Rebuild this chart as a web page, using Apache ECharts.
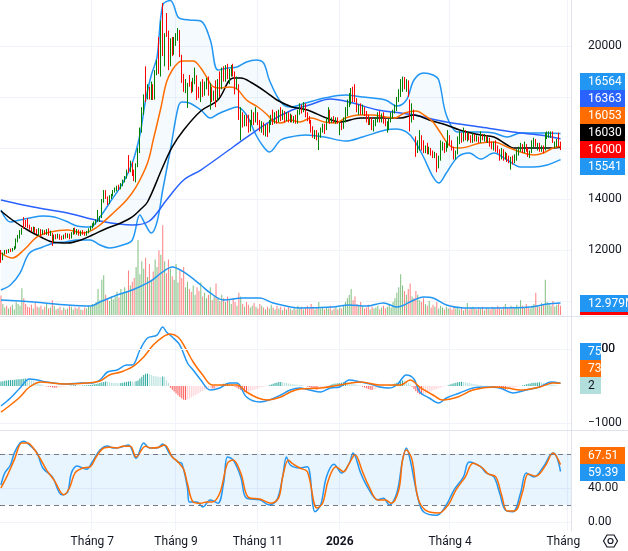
<!DOCTYPE html>
<html><head><meta charset="utf-8">
<script src="https://cdn.jsdelivr.net/npm/echarts@6/dist/echarts.min.js"></script>
<style>html,body{margin:0;padding:0;background:#fff}#c{width:628px;height:551px}</style>
</head><body><div id="c"></div>
<script>
// ---------- time axis ----------
const startDate = '2025-04-21';
const slotCount = 300;
const holidays = ['2025-04-30','2025-05-01','2025-05-02','2025-09-01','2025-09-02','2026-01-01',
  '2026-02-16','2026-02-17','2026-02-18','2026-02-19','2026-02-20','2026-04-27','2026-04-30','2026-05-01'];
const monthTicks = {'2025-07':'Tháng 7','2025-09':'Tháng 9','2025-11':'Tháng 11','2026-01':'2026','2026-04':'Tháng 4','2026-07':'Tháng 7'};

// ---------- axis tick labels ----------
const priceTicks = [10000, 12000, 14000, 16000, 18000, 20000];
const macdTicks = [-1000, 0, 1000];
const stochTicks = [0, 40, 80];

// ---------- price candles [open, close, low, high] ----------
const candles = [
[11950,11650,11500,12000],[11650,11850,11600,11900],[11850,11950,11820,12000],[11950,11900,11850,12010],[11900,11990,11880,12040],
[11990,11960,11920,12060],[11960,12050,11940,12080],[12050,12100,12000,12150],[12100,12350,12050,12450],[12350,12500,12300,12590],
[12500,12650,12450,12780],[12650,12800,12600,12860],[13050,12880,12830,13290],[13150,12950,12900,13180],[13200,12950,12860,13250],
[12950,12850,12800,12990],[12850,12780,12710,12900],[12780,12850,12700,12920],[12850,12760,12670,12900],[12760,12700,12620,12820],
[12700,12780,12560,12860],[12780,12650,12520,12820],[12650,12720,12600,12800],[12720,12680,12600,12780],[12680,12750,12590,12820],
[12750,12620,12560,12850],[12620,12700,12550,12760],[12650,12300,12160,12670],[12350,12550,12300,12600],[12550,12500,12420,12620],
[12500,12580,12450,12640],[12580,12480,12400,12620],[12480,12450,12390,12560],[12450,12550,12420,12600],[12550,12500,12450,12670],
[12500,12600,12470,12650],[12600,12480,12420,12640],[12480,12650,12450,12700],[12650,12800,12600,12860],[12800,12700,12620,12880],
[12700,12750,12600,12820],[12750,12620,12560,12800],[12620,12700,12550,12760],[12700,12640,12600,12780],[12640,12600,12560,12720],
[12600,12700,12560,12750],[12700,12800,12650,12850],[12800,12900,12760,12950],[12900,12980,12850,13050],[12980,13050,12920,13120],
[13050,13150,13000,13200],[13150,13450,13100,13570],[13200,13300,13100,13330],[13300,13900,13250,14000],[13900,14250,13850,14350],
[14250,14050,14000,14350],[14050,13850,13760,14100],[13850,14050,13800,14150],[14050,14150,14000,14200],[14150,14300,14100,14350],
[14300,14380,14250,14450],[14380,14450,14300,14520],[14450,14400,14350,14560],[14400,14550,14380,14620],[14550,14700,14500,14760],
[14700,14850,14650,14900],[14850,15050,14800,15150],[15500,15100,15020,15720],[15100,15400,15050,15500],[15400,15000,14900,15450],
[15000,14800,14700,15150],[14800,15300,14650,15400],[15300,15900,15250,16000],[15900,16700,15800,16800],[16700,17500,16600,17600],
[17500,17900,17300,18100],[18600,17950,17800,19200],[17950,18300,17900,18500],[18300,18000,17900,18400],[18000,18400,17880,18600],
[18400,17950,17880,18500],[17950,18900,17900,19050],[18900,19400,18850,19450],[19800,18950,18900,20350],[19000,20700,18800,21000],
[21200,19800,19600,21680],[19800,20400,19200,20500],[21100,20400,20350,21290],[20400,19500,19050,20600],[19500,20000,19200,20300],
[20000,19700,19600,20350],[19700,20200,19650,20350],[20200,20300,20000,20500],[20300,20650,20200,20700],[20600,19900,19560,20620],
[19600,18700,18550,19650],[18700,18400,18200,18900],[18400,18500,18150,18700],[17900,18300,17570,18550],[18800,18500,18400,18860],
[18500,18250,18150,18600],[18250,18600,18200,18750],[18600,18900,18500,19150],[18800,18200,17880,18850],[18200,18100,17950,18400],
[18100,18500,17800,18600],[18500,18150,18000,18700],[18150,18450,18050,18600],[18450,18600,18300,18750],[18600,18200,18050,18800],
[18000,18300,17500,18550],[18300,17900,17800,18400],[17900,18100,17850,18250],[18400,17900,17600,18650],[17900,18500,17850,18700],
[18500,18400,18000,19000],[18400,18900,18300,19150],[18900,18700,18600,19200],[18700,19000,18600,19250],[19000,18800,18700,19300],
[18800,19050,18500,19100],[19050,19200,18800,19250],[19200,18900,18800,19300],[18900,18500,18100,19000],[18500,18600,18300,18800],
[18400,17300,17100,18500],[16700,17200,16300,17600],[17200,16900,16800,17400],[16900,17100,16850,17300],[17100,16950,16850,17300],
[16950,16800,16600,17300],[16800,17000,16650,17100],[17000,17250,16900,17500],[17250,17100,16900,17400],[17100,17300,17000,17600],
[17300,17000,16900,17400],[17000,16750,16650,17100],[16750,16900,16600,17050],[16900,16600,16500,17000],[16600,16800,16450,16900],
[16800,16650,16430,16950],[16650,16950,16600,17100],[16950,17200,16900,17300],[17200,17000,16900,17500],[17000,17250,16950,17400],
[17250,17050,16950,17450],[17050,17300,17000,17500],[17300,17200,17050,17600],[17200,17350,17100,17500],[17350,17100,17000,17450],
[17100,17300,17050,17400],[17300,17150,17000,17400],[17150,17200,17000,17350],[17200,17050,17000,17300],[17050,17150,16980,17250],
[17150,17000,16950,17300],[17000,17400,16950,17500],[17400,17600,17300,17750],[17600,17450,17350,17700],[17450,17650,17400,17800],
[17650,17300,17200,17750],[17300,17150,17050,17400],[17150,17050,16950,17250],[17050,16700,16600,17100],[16700,16500,16400,16850],
[16500,16600,16350,16700],[16600,16400,16300,16700],[16350,16500,15920,16600],[16500,16700,16400,16800],[16700,16850,16600,16950],
[16850,16750,16550,16950],[16750,17100,16700,17200],[17100,17350,17000,17600],[17350,17050,16950,17500],[17050,17150,16980,17200],
[17150,17000,16980,17250],[17000,17100,16950,17200],[17100,16980,16950,17200],[16600,16900,16500,17000],[16900,16800,16700,17000],
[16800,17100,16750,17200],[17100,17300,17000,17600],[17300,17700,17250,17900],[17700,17900,17600,18150],[17900,18100,17700,18350],
[18100,17900,17800,18400],[18300,17900,17800,18500],[17900,17500,17400,17950],[17500,17600,17300,17700],[17600,17400,17300,17750],
[17400,17500,17300,17700],[17500,17350,17250,17600],[17350,17150,17000,17450],[17150,17000,16900,17300],[17000,17100,16900,17200],
[17100,16850,16700,17200],[16850,16950,16650,17100],[16950,17100,16850,17200],[17100,17300,17000,17400],[17300,17100,17000,17450],
[17100,17250,17000,17350],[17250,17000,16950,17400],[17000,16900,16850,17150],[16900,16950,16600,17050],[16950,17050,16700,17150],
[17050,17250,17000,17400],[17250,17400,17150,17500],[17400,17550,17350,17700],[17550,17900,17450,18000],[17900,18200,17800,18300],
[18200,18500,18000,18700],[18400,18700,18200,18800],[18700,18400,18300,18780],[18400,18600,18200,18700],[18600,18200,18000,18650],
[17800,17100,16650,17900],[17100,17400,17000,17750],[17400,17200,17100,17500],[16400,15900,15650,16450],[15900,16100,15800,16300],
[16100,16250,15900,16700],[16250,16000,15900,16500],[16000,15850,15800,16300],[15850,15950,15800,16100],[15950,15800,15750,16200],
[15800,15900,15750,16050],[15900,15750,15700,16000],[15750,15650,15600,15900],[15650,15700,15600,15850],[15700,15350,15050,15800],
[15350,15600,15200,15700],[15600,16000,15500,16300],[16000,16100,15900,16250],[16100,15950,15800,16200],[15950,16100,15850,16250],
[16100,16400,16000,16700],[16400,16250,16100,16500],[16250,15950,15900,16300],[15950,15700,15550,16050],[15700,15800,15550,15900],
[15800,16250,15750,16450],[16250,16500,16150,16650],[16500,16300,16200,16600],[16300,16550,16250,16800],[16550,16350,16300,16700],
[16350,16500,16250,16650],[16500,16400,16300,16600],[16400,16300,16200,16500],[16300,16450,16200,16600],[16450,16300,16250,16550],
[16300,16400,16250,16500],[16400,16250,16200,16450],[16250,16500,16200,16650],[16500,16350,16300,16550],[16350,16450,16250,16550],
[16450,16300,16200,16500],[16300,16350,16200,16450],[16350,16150,16050,16400],[16150,16050,15950,16250],[16050,16150,15900,16250],
[16150,15950,15850,16300],[15950,15900,15800,16100],[15900,15800,15500,15950],[15800,15900,15550,16000],[15900,15650,15500,15950],
[15650,15750,15550,15850],[15750,15550,15450,15800],[15550,15450,15400,15700],[15450,15600,15150,15650],[15600,15450,15350,15700],
[15450,15600,15400,15750],[15600,15800,15500,15950],[15800,15950,15700,16050],[15950,16100,15850,16200],[16100,15950,15800,16150],
[15950,16100,15800,16250],[16100,15900,15850,16150],[15900,15750,15650,16000],[15750,15850,15600,15900],[15850,16200,15800,16300],
[16100,16300,16000,16400],[16300,16100,16050,16350],[16100,16150,15900,16200],[16150,15950,15850,16200],[15950,16050,15850,16100],
[16050,15950,15800,16100],[15950,16500,15900,16600],[16500,16550,16350,16650],[16450,16550,16400,16650],[16550,16600,16400,16650],
[16600,16300,16200,16650],[16100,16200,16000,16250],[16200,16250,16050,16350],[16500,16150,16050,16600],[16150,16000,15920,16250]
];

// ---------- volume (millions) ----------
const volumes = [
21,12,8,10,7,9,11,6,14,12, 10,29,18,12,9,8,11,7,13,9, 8,10,6,9,12,7,8,16,10,6, 7,9,5,8,6,7,10,9,6,8,
7,9,6,5,8,7,10,9,12,11, 14,28,16,38,43,22,18,15,20,17, 22,25,19,28,24,30,26,48,32,36, 40,52,81,44,58,50,62,41,55,38,
47,60,52,70,65,97,58,45,60,50, 42,38,55,35,48,40,52,30,36,28, 25,32,22,30,26,35,20,24,18,22, 30,16,20,34,19,15,22,18,14,20,
16,12,18,14,10,24,20,12,9,14, 11,8,10,13,9,7,12,10,8,6, 9,7,11,8,6,10,7,9,5,8, 6,9,7,5,8,6,10,7,9,6,
8,10,7,12,9,6,8,14,7,9, 6,8,7,10,5,7,9,6,8,7, 10,14,18,22,28,16,20,12,10,14, 9,7,8,11,6,9,7,8,10,6,
8,10,7,9,12,8,14,18,24,30, 44,32,26,22,28,34,20,18,26,22, 16,14,18,12,10,15,8,11,9,14, 7,10,8,6,9,7,8,6,10,7,
9,6,8,5,7,13,6,8,9,7, 6,8,7,9,5,8,7,6,9,8, 7,10,8,6,9,12,8,7,10,9, 8,11,9,16,10,8,12,9,7,10,
12,24,10,9,13,11,38,14,12,10, 15,9,11,13,10
];

// ---------- moving averages read at sample bars [barIndex, value] ----------
const maFast = [[0,11882],[6,11686],[12,12000],[19,12510],[26,12706],[35,12784],[43,12666],[48,12784],[52,12980],[59,13450],
[66,13960],[71,14470],[77,15410],[80,16312],[84,17566],[87,18586],[90,19056],[93,19330],[95,19409],[101,19409],[105,19134],
[108,18782],[111,18429],[115,18350],[120,18390],[124,18311],[129,17880],[135,17606],[140,17292],[143,17057],[147,16978],
[152,17096],[157,17018],[163,17174],[170,17018],[176,16978],[181,17174],[188,17292],[195,17292],[202,17214],[207,17174],
[212,17370],[218,17449],[223,17253],[227,17018],[231,16586],[236,16077],[241,15998],[252,16194],[259,16234],[266,16038],
[273,15842],[280,15724],[285,15802],[290,15998],[294,16053]];
const maMid = [[0,13529],[6,13176],[14,12784],[21,12510],[27,12314],[35,12274],[42,12392],[48,12588],[56,12862],[63,13058],
[69,13294],[73,13568],[77,13882],[85,15254],[90,16038],[96,16704],[105,17449],[114,17880],[122,18742],[126,18742],[132,18546],
[140,18154],[145,17880],[153,17606],[161,17488],[171,17174],[178,17018],[189,17174],[199,17174],[210,17174],[217,17292],
[225,17096],[234,16900],[241,16704],[252,16508],[259,16430],[266,16116],[269,15998],[280,15998],[290,15998],[294,16030]];
const maSlow = [[0,13960],[17,13686],[35,13450],[52,13137],[69,12980],[78,13137],[87,13960],[96,14744],[105,15136],[122,16038],
[140,16978],[153,17488],[162,17684],[173,17919],[183,17802],[198,17488],[210,17370],[217,17292],[234,17018],[252,16822],
[269,16626],[283,16508],[294,16363]];

// ---------- Bollinger bands ----------
const bbIndex = [0,5,10,15,22,28,34,40,47,52,57,64,69,73,76,79,82,85,89,93,95,99,105,110,114,119,124,129,134,138,
141,147,152,160,170,181,190,202,208,213,217,222,227,230,234,240,246,252,259,266,273,280,287,294];
const bbUpper = [13568,13098,13176,13254,13333,13294,13137,12941,12902,13294,13842,14626,15410,16508,17880,18860,19566,21604,21780,21134,
21055,21016,20977,20232,19056,19134,19174,19370,19448,19330,18664,17802,17606,17762,17958,18076,17998,17880,17645,17880,
18664,18938,18860,18664,17292,16626,16626,16626,16586,16430,16586,16586,16586,16564];
const bbLower = [10432,10628,11098,11882,12118,12274,12314,12392,12392,12196,12078,12196,12392,13372,12980,12666,13098,14352,15920,17566,
17802,17762,17488,17174,17331,17488,17606,17292,16508,16038,15842,16312,16430,16508,16430,16273,16430,16704,16743,16626,
16312,15646,14862,14626,15018,15646,15802,15567,15802,15528,15254,15254,15332,15541];

// ---------- volume MA (millions) ----------
const volMa = [[0,16.2],[17,14],[35,10.8],[47,9.7],[52,14],[61,21.6],[69,27],[78,35.7],[85,46.5],[90,51.9],[96,46.5],[105,32.4],
[110,23.8],[117,16.2],[127,18.4],[136,18.4],[143,13],[157,7.6],[174,8.6],[183,10.8],[192,9.7],[201,13],[208,8.6],[217,16.2],
[222,19.5],[227,18.4],[234,10.8],[243,7.6],[261,7.6],[278,8.6],[287,11.9],[294,13]];

// ---------- MACD ----------
const macdLine = [[0,-540],[5,-324],[10,-54],[15,189],[19,162],[24,108],[35,54],[42,81],[48,81],[52,162],[56,378],[61,432],[66,567],
[69,567],[73,973],[77,1297],[82,1378],[85,1595],[87,1459],[90,1324],[94,1108],[98,622],[101,432],[105,162],[110,-108],[115,-54],
[120,81],[124,81],[129,-297],[136,-432],[141,-378],[147,-243],[152,-108],[157,-54],[162,-108],[168,-162],[173,-54],[178,-27],
[183,162],[189,108],[194,54],[199,-27],[204,-54],[208,27],[213,297],[217,189],[220,-162],[225,-324],[230,-459],[234,-324],
[241,-189],[248,-54],[255,-27],[262,-54],[269,-189],[276,-108],[283,-27],[289,108],[294,75]];
const signalLine = [[0,-703],[5,-514],[10,-297],[15,-27],[21,108],[27,81],[35,54],[45,81],[52,135],[57,297],[63,378],[69,514],
[75,784],[80,1108],[85,1324],[89,1405],[93,1324],[96,1108],[101,649],[106,297],[111,27],[119,27],[124,27],[129,-162],[135,-324],
[140,-378],[147,-297],[152,-162],[157,-81],[168,-54],[178,27],[189,108],[199,27],[210,27],[215,162],[220,-27],[227,-243],
[232,-378],[240,-297],[248,-108],[259,-27],[266,-54],[273,-108],[283,-27],[290,81],[294,73]];
const macdHist = [
120,130,140,150,155,160,165,170,175,180,185,190,195,200,190,170,150,130,110,90,70,50,30,10,
-10,-20,-30,-40,-45,-50,-40,-35,-30,
-20,-10,0,10,15,20,25,20,15,10,12,15,18,20,25,
35,45,55,65,80,95,110,120,115,
100,90,85,80,78,75,80,90,100,110,120,130,120,110,130,
150,200,250,300,330,340,
320,300,280,270,260,250,240,260,250,
150,80,
-50,-100,-150,-200,-250,-300,-340,-370,-380,-360,
-340,-310,-280,-250,-220,-190,-160,-130,-100,-80,-60,-50,
-60,-70,-60,-40,
20,40,60,70,75,65,50,30,
-20,-50,-80,-110,-140,-160,-165,-155,-140,-120,-100,-80,-60,-40,
-30,-20,-10,0,20,
40,60,80,95,105,110,100,90,80,70,60,50,45,40,35,30,
25,15,5,-10,
-30,-50,-70,-90,-100,-95,-85,-70,-50,-30,
10,30,50,60,70,75,
80,90,100,110,100,90,
80,65,50,35,20,5,
-20,-40,-60,-80,-100,-110,-100,-80,-60,-40,
-20,-10,0,10,20,30,
50,70,90,110,130,150,140,120,90,50,
-20,-80,-140,-190,-220,-230,-220,-200,-180,-160,-140,-120,-100,-80,-60,-40,
-20,-10,0,
20,40,60,75,90,100,110,115,110,100,90,80,70,60,50,40,30,20,
15,10,5,0,-10,-20,-30,-40,-50,
-60,-80,-90,-100,-95,-85,-70,-55,-40,-25,-10,0,
15,30,45,60,70,80,85,90,95,100,95,90,80,70,60,50,40,30,20,10,2];

// ---------- Stochastic ----------
const stochK = [[0,43.5],[2,57.6],[5,67],[7,81],[10,93],[12,95],[15,90.6],[19,81],[22,63.5],[27,53],[32,32],[35,35],[37,57.6],
[40,66],[45,62],[48,70.6],[52,84.7],[56,89.4],[59,87],[63,88],[67,90.6],[71,75],[75,93],[78,87],[82,87],[85,91.8],[89,79],
[93,70.6],[95,69],[98,40],[99,23.5],[103,23.5],[106,17.6],[110,26],[114,22],[117,46],[119,76.5],[122,73],[126,53],[129,28],
[136,26],[141,20],[145,26],[148,53],[150,76.5],[152,67],[157,63.5],[161,65],[165,12],[168,20],[171,53],[175,68],[179,57.6],
[183,69],[185,81],[189,57.6],[192,43.5],[198,26],[201,28],[204,20],[208,34],[211,73],[213,87],[215,73],[219,29],[222,12],
[229,8],[234,20],[238,37.6],[243,53],[246,70.6],[252,65],[255,57.6],[259,53],[262,34],[265,14],[269,12],[273,34],[276,57.6],
[280,53],[285,65],[290,81],[292,76.5],[294,59.39]];
const stochD = [[0,40],[3,53],[7,73],[11,93],[14,93],[17,87],[21,73],[24,61],[28,49],[33,32],[36,40],[39,58],[43,63.5],[47,65],
[50,76.5],[54,87],[57,88],[61,87],[64,89],[68,89],[71,76.5],[76,89],[79,87],[83,88],[86,90.6],[90,76.5],[93,70.6],[96,62],
[98,45],[101,23.5],[105,22],[108,23.5],[111,23.5],[115,34],[119,69],[122,73],[126,57.6],[130,29],[136,27],[142,22],[146,29],
[148,53],[151,73],[153,69],[157,63.5],[161,59],[166,16.5],[169,22],[172,49],[176,65],[180,59],[183,69],[186,79],[190,59],
[193,43.5],[198,26],[202,26],[205,22],[209,37.6],[211,73],[213,84.7],[216,73],[219,29],[223,14],[230,10.6],[235,20],[239,37.6],
[244,53],[248,69],[253,63.5],[256,56.5],[260,53],[263,32],[266,13],[270,13],[274,35],[277,56.5],[281,54],[286,66],[290,81],
[294,67.51]];

// ---------- right-scale value tags ----------
const priceTags = [['16564','#2196f3','#fff'],['16363','#2962ff','#fff'],['16053','#ff6d00','#fff'],['16030','#000000','#fff'],['16000','#ff0000','#fff'],['15541','#2196f3','#fff']];
const volumeTags = [['12.979M','#2196f3','#fff']];
const macdTags = [['75','#2196f3','#fff'],['73','#ff6d00','#fff'],['2','#b2dfdb','#131722']];
const stochTags = [['67.51','#ff6d00','#fff'],['59.39','#2196f3','#fff']];

// ================= build =================
function tradingDays() {
  const out = [];
  const d = new Date(startDate + 'T00:00:00Z');
  const hs = new Set(holidays);
  while (out.length < slotCount) {
    const s = d.toISOString().slice(0, 10);
    const wd = d.getUTCDay();
    if (wd !== 0 && wd !== 6 && !hs.has(s)) out.push(s);
    d.setUTCDate(d.getUTCDate() + 1);
  }
  return out;
}
const dates = tradingDays();
const tickSet = new Set();
const seenMonth = {};
dates.forEach((d, i) => { const m = d.slice(0, 7); if (monthTicks[m] && !seenMonth[m]) { seenMonth[m] = 1; tickSet.add(i); } });

const FONT = 'Roboto, "Open Sans", sans-serif';
const TXT = '#131722';
const GRID_LINE = '#f0f3fa';
const BORDER = '#e0e3eb';

function makeX(gi, showLabels) {
  return {
    type: 'category', gridIndex: gi, data: dates, boundaryGap: true,
    axisLine: { show: false }, axisTick: { show: false },
    axisLabel: {
      show: showLabels, interval: (i) => tickSet.has(i), margin: 5,
      color: TXT, fontSize: 12, fontFamily: FONT,
      formatter: (v) => { const t = monthTicks[v.slice(0, 7)] || ''; return t === '2026' ? '{b|2026}' : t; },
      rich: { b: { fontWeight: 'bold', fontSize: 12, color: TXT, fontFamily: FONT } }
    },
    splitLine: { show: true, interval: (i) => tickSet.has(i), lineStyle: { color: GRID_LINE, width: 1 } }
  };
}
const minus = (v) => (v < 0 ? '\u2212' + Math.abs(v) : String(v));

function yLabel(ticks, fmt) {
  return { margin: 17, color: TXT, fontSize: 12, fontFamily: FONT, customValues: ticks, showMinLabel: true, showMaxLabel: true,
    hideOverlap: false, formatter: (v) => (ticks.some((t) => Math.abs(t - v) < 1e-6) ? fmt(v) : '') };
}

const upC = '#008000', dnC = '#ff0000';
const volData = volumes.map((v, i) => ({ value: v, itemStyle: { color: candles[i][1] >= candles[i][0] ? 'rgba(0,128,0,0.5)' : 'rgba(255,0,0,0.5)' } }));
const histData = macdHist.map((v, i) => {
  const p = i > 0 ? macdHist[i - 1] : v;
  let c;
  if (v >= 0) c = v >= p ? '#26a69a' : '#b2dfdb';
  else c = v <= p ? '#ff5252' : '#ffcdd2';
  return { value: v, itemStyle: { color: c } };
});
const bbLowerPts = bbIndex.map((x, k) => [x, bbLower[k]]);
const bbBandPts = bbIndex.map((x, k) => [x, bbUpper[k] - bbLower[k]]);

function lineS(name, data, xi, color, width, extra) {
  return Object.assign({
    type: 'line', name, data, xAxisIndex: xi, yAxisIndex: xi, smooth: 0.35, showSymbol: false, symbol: 'none',
    lineStyle: { color, width }, itemStyle: { color }, silent: true, z: 3
  }, extra || {});
}

function tagEls(list, top, width) {
  return list.map((t, k) => ({
    type: 'group', z: 100,
    children: [
      { type: 'rect', z: 100, shape: { x: 580, y: top + k * 17, width, height: 17 }, style: { fill: t[1] } },
      { type: 'text', z: 101, style: { x: 588, y: top + k * 17 + 9, text: t[0], fill: t[2], fontSize: 12, fontFamily: FONT, verticalAlign: 'middle', align: 'left' } }
    ]
  }));
}

const chart = echarts.init(document.getElementById('c'), null, { renderer: 'canvas' });
chart.setOption({
  animation: false,
  backgroundColor: '#ffffff',
  grid: [
    { left: 0, right: 57, top: 0, height: 316 },
    { left: 0, right: 57, top: 216, height: 99 },
    { left: 0, right: 57, top: 316, height: 114 },
    { left: 0, right: 57, top: 430, height: 101 }
  ],
  xAxis: [makeX(0, false), makeX(1, false), makeX(2, false), makeX(3, true)],
  yAxis: [
    { gridIndex: 0, type: 'value', position: 'right', min: 9413, max: 21800, minInterval: 2000, maxInterval: 2000,
      axisLine: { show: true, lineStyle: { color: BORDER } }, axisTick: { show: false },
      axisLabel: yLabel(priceTicks, (v) => String(v)),
      splitLine: { show: true, showMinLine: false, showMaxLine: false, lineStyle: { color: GRID_LINE } } },
    { gridIndex: 1, type: 'value', min: 0, max: 107, show: false, splitLine: { show: false } },
    { gridIndex: 2, type: 'value', position: 'right', min: -1189, max: 1892, minInterval: 1000, maxInterval: 1000,
      axisLine: { show: true, lineStyle: { color: BORDER } }, axisTick: { show: false },
      axisLabel: yLabel(macdTicks, minus),
      splitLine: { show: false } },
    { gridIndex: 3, type: 'value', position: 'right', min: -10.6, max: 108.2, minInterval: 40, maxInterval: 40,
      axisLine: { show: true, lineStyle: { color: BORDER } }, axisTick: { show: false },
      axisLabel: yLabel(stochTicks, (v) => Math.abs(v).toFixed(2)),
      splitLine: { show: true, showMinLine: false, showMaxLine: false, lineStyle: { color: GRID_LINE } } }
  ],
  series: [
    lineS('BB lower', bbLowerPts, 0, '#2196f3', 1.5, { stack: 'bb', z: 1 }),
    lineS('BB upper', bbBandPts, 0, '#2196f3', 1.5, { stack: 'bb', z: 1, areaStyle: { color: 'rgba(33,150,243,0.06)' } }),
    lineS('MA slow', maSlow, 0, '#2962ff', 1.5, { z: 2 }),
    lineS('MA mid', maMid, 0, '#000000', 1.5, { z: 2 }),
    lineS('MA fast', maFast, 0, '#ff6d00', 1.5, { z: 2 }),
    { type: 'candlestick', name: 'price', data: candles, xAxisIndex: 0, yAxisIndex: 0, barWidth: 1.2, z: 4, silent: true,
      itemStyle: { color: upC, color0: dnC, borderColor: upC, borderColor0: dnC, borderWidth: 1 } },
    { type: 'bar', name: 'volume', data: volData, xAxisIndex: 1, yAxisIndex: 1, barWidth: 1, silent: true, z: 2 },
    lineS('Vol MA', volMa, 1, '#2196f3', 1.5, { z: 3 }),
    { type: 'bar', name: 'hist', data: histData, xAxisIndex: 2, yAxisIndex: 2, barWidth: 1, silent: true, z: 2 },
    lineS('MACD', macdLine, 2, '#2196f3', 1.5, { markLine: { silent: true, symbol: 'none', label: { show: false },
      lineStyle: { color: GRID_LINE, type: 'solid', width: 1 }, data: [{ yAxis: 1000 }, { yAxis: -1000 }] } }),
    lineS('Signal', signalLine, 2, '#ff6d00', 1.5),
    lineS('%K', stochK, 3, '#2196f3', 1.5, {
      markArea: { silent: true, itemStyle: { color: 'rgba(33,150,243,0.1)' }, data: [[{ yAxis: 80 }, { yAxis: 20 }]] },
      markLine: { silent: true, symbol: 'none', label: { show: false }, lineStyle: { color: '#787b86', type: [5, 4], width: 1 },
        data: [{ yAxis: 80 }, { yAxis: 20 }] } }),
    lineS('%D', stochD, 3, '#ff6d00', 1.5)
  ],
  graphic: [
    { type: 'line', z: 90, shape: { x1: 0, y1: 316.5, x2: 628, y2: 316.5 }, style: { stroke: BORDER, lineWidth: 1 } },
    { type: 'line', z: 90, shape: { x1: 0, y1: 430.5, x2: 628, y2: 430.5 }, style: { stroke: BORDER, lineWidth: 1 } },
    { type: 'text', z: 50, style: { x: 588, y: 349, text: '1000', fill: TXT, fontSize: 12, fontFamily: FONT, verticalAlign: 'middle', align: 'left' } },
    { type: 'rect', z: 95, shape: { x: 581, y: 533, width: 47, height: 18 }, style: { fill: '#ffffff' } },
    { type: 'polygon', z: 96, shape: { points: [[603.5, 541], [607, 535], [614, 535], [617.5, 541], [614, 547], [607, 547]] },
      style: { fill: 'none', stroke: TXT, lineWidth: 1.2 } },
    { type: 'circle', z: 96, shape: { cx: 610.5, cy: 541, r: 2.5 }, style: { fill: 'none', stroke: TXT, lineWidth: 1.2 } },
    { type: 'rect', z: 99, shape: { x: 580, y: 312, width: 48, height: 3 }, style: { fill: '#ff0000' } }
  ].concat(tagEls(priceTags, 73, 45), tagEls(volumeTags, 295, 48), tagEls(macdTags, 343, 21), tagEls(stochTags, 447, 45))
});
</script>
</body></html>
